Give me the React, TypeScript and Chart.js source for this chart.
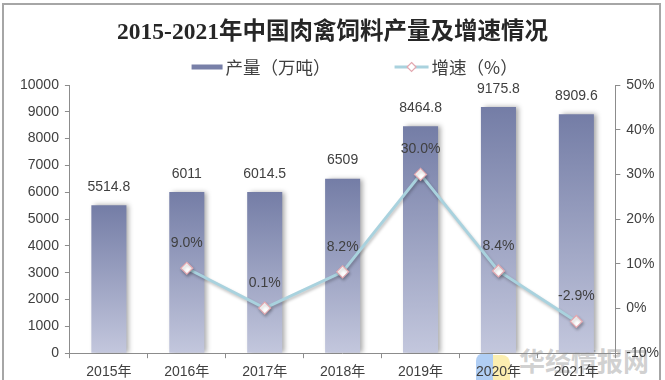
import React, { useEffect, useRef } from "react";
import { Chart, registerables } from "chart.js";

Chart.register(...registerables);

const categories = ["2015年", "2016年", "2017年", "2018年", "2019年", "2020年", "2021年"];
const outputValues = [5514.8, 6011, 6014.5, 6509, 8464.8, 9175.8, 8909.6];
const outputLabels = ["5514.8", "6011", "6014.5", "6509", "8464.8", "9175.8", "8909.6"];
const growthValues: (number | null)[] = [null, 9.0, 0.1, 8.2, 30.0, 8.4, -2.9];
const growthLabels = ["", "9.0%", "0.1%", "8.2%", "30.0%", "8.4%", "-2.9%"];
const leftAxis = { min: 0, max: 10000, step: 1000 };
const rightAxis = { min: -10, max: 50, step: 10 };

const TITLE = "2015-2021年中国肉禽饲料产量及增速情况";
const SERIES_BAR = "产量（万吨）";
const SERIES_LINE = "增速（%）";

const SANS = "'Liberation Sans', Arial, 'Noto Sans CJK SC', sans-serif";
const CJK = "'Noto Sans CJK SC', sans-serif";
const SERIF = "'Liberation Serif', 'Noto Sans CJK SC', serif";
const TEXT = "#404040";
const AXIS = "#8c8c8c";
const BAR_TOP = "#747da6";
const BAR_BOTTOM = "#c3c7dd";
const LEGEND_BAR = "#7880a8";
const LINE_COLOR = "#a9d2de";
const MARKER_BORDER = "#e3a8b0";

const shadowPlugin = {
  id: "shadowPlugin",
  beforeDatasetDraw(chart: any, args: any) {
    const ctx = chart.ctx;
    ctx.save();
    if (args.meta.type === "bar") {
      ctx.shadowColor = "rgba(0,0,0,0.35)";
      ctx.shadowBlur = 5;
      ctx.shadowOffsetX = 3;
      ctx.shadowOffsetY = 0;
    } else {
      ctx.shadowColor = "rgba(0,0,0,0.25)";
      ctx.shadowBlur = 3;
      ctx.shadowOffsetX = 1;
      ctx.shadowOffsetY = 2;
    }
  },
  afterDatasetDraw(chart: any) {
    chart.ctx.restore();
  },
};

const labelPlugin = {
  id: "labelPlugin",
  afterDatasetsDraw(chart: any) {
    const ctx = chart.ctx;
    ctx.save();
    ctx.font = `14px ${SANS}`;
    ctx.fillStyle = TEXT;
    ctx.textAlign = "center";
    ctx.textBaseline = "middle";
    chart.data.datasets.forEach((ds: any, di: number) => {
      const meta = chart.getDatasetMeta(di);
      meta.data.forEach((el: any, i: number) => {
        if (ds.type === "bar") {
          ctx.fillText(outputLabels[i], el.x, el.y - 18);
        } else if (growthValues[i] !== null) {
          ctx.fillText(growthLabels[i], el.x, el.y - 25);
        }
      });
    });
    ctx.restore();
  },
};

// Title and legend drawn in the space reserved above the plot
const headerPlugin = {
  id: "header",
  afterDraw(chart: any) {
    const ctx = chart.ctx;
    const area = chart.chartArea;
    ctx.save();
    ctx.font = `bold 23.5px ${SERIF}`;
    ctx.fillStyle = "#262626";
    ctx.textAlign = "center";
    ctx.textBaseline = "middle";
    ctx.fillText(TITLE, chart.width / 2, 33);

    const y = 67;
    ctx.font = `17.5px ${CJK}`;
    ctx.textAlign = "left";
    const sw1 = 31;
    const sw2 = 34;
    const gapText = 3;
    const gapItems = 64;
    const tw1 = ctx.measureText(SERIES_BAR).width;
    const tw2 = ctx.measureText(SERIES_LINE).width;
    const total = sw1 + gapText + tw1 + gapItems + sw2 + gapText + tw2;
    const cx = (area.left + area.right) / 2 + 12;
    let x = cx - total / 2;
    ctx.fillStyle = LEGEND_BAR;
    ctx.fillRect(x, y - 2.5, sw1, 5);
    x += sw1 + gapText;
    ctx.fillStyle = TEXT;
    ctx.fillText(SERIES_BAR, x, y);
    x += tw1 + gapItems;
    ctx.strokeStyle = LINE_COLOR;
    ctx.lineWidth = 3;
    ctx.beginPath();
    ctx.moveTo(x, y);
    ctx.lineTo(x + sw2, y);
    ctx.stroke();
    const mx = x + sw2 / 2;
    ctx.beginPath();
    ctx.moveTo(mx, y - 4.5);
    ctx.lineTo(mx + 4.5, y);
    ctx.lineTo(mx, y + 4.5);
    ctx.lineTo(mx - 4.5, y);
    ctx.closePath();
    ctx.fillStyle = "#ffffff";
    ctx.fill();
    ctx.strokeStyle = MARKER_BORDER;
    ctx.lineWidth = 1.2;
    ctx.stroke();
    x += sw2 + gapText;
    ctx.fillStyle = TEXT;
    ctx.fillText(SERIES_LINE, x, y);
    ctx.restore();
  },
};

export default function App() {
  const ref = useRef<HTMLCanvasElement>(null);

  useEffect(() => {
    if (!ref.current) return;

    const chart = new Chart(ref.current, {
      type: "bar",
      data: {
        labels: categories,
        datasets: [
          {
            type: "line",
            label: SERIES_LINE,
            data: growthValues,
            yAxisID: "y1",
            borderColor: LINE_COLOR,
            borderWidth: 3,
            pointStyle: "rectRot",
            pointRadius: 6,
            pointBackgroundColor: "#ffffff",
            pointBorderColor: MARKER_BORDER,
            pointBorderWidth: 1.2,
            tension: 0,
            order: 0,
          } as any,
          {
            type: "bar",
            label: SERIES_BAR,
            data: outputValues,
            yAxisID: "y",
            barPercentage: 0.9,
            categoryPercentage: 0.5,
            order: 1,
            backgroundColor: (c: any) => {
              const chart = c.chart;
              const ys = chart.scales && chart.scales.y;
              if (!ys || c.dataIndex === undefined) return BAR_TOP;
              const v = outputValues[c.dataIndex];
              const top = ys.getPixelForValue(v);
              const bottom = ys.getPixelForValue(0);
              if (!isFinite(top) || !isFinite(bottom)) return BAR_TOP;
              const g = chart.ctx.createLinearGradient(0, top, 0, bottom);
              g.addColorStop(0, BAR_TOP);
              g.addColorStop(1, BAR_BOTTOM);
              return g;
            },
          } as any,
        ],
      },
      options: {
        animation: false,
        responsive: false,
        maintainAspectRatio: false,
        layout: { padding: { left: 14, right: 0, top: 85, bottom: -7 } },
        plugins: {
          title: { display: false },
          legend: { display: false },
          tooltip: { enabled: false },
        },
        scales: {
          x: {
            offset: true,
            grid: {
              display: true,
              offset: true,
              drawOnChartArea: false,
              drawTicks: true,
              tickLength: 5,
              color: AXIS,
            },
            border: { display: true, color: AXIS, width: 1 },
            ticks: { color: TEXT, font: { size: 14, family: SANS }, padding: 6, maxRotation: 0 },
          },
          y: {
            position: "left",
            min: leftAxis.min,
            max: leftAxis.max,
            grid: {
              display: true,
              drawOnChartArea: false,
              drawTicks: true,
              tickLength: 5,
              color: AXIS,
            },
            border: { display: true, color: AXIS, width: 1 },
            ticks: {
              stepSize: leftAxis.step,
              color: TEXT,
              font: { size: 14, family: SANS },
              padding: 6,
              callback: (v: any) => String(v),
            },
          },
          y1: {
            position: "right",
            min: rightAxis.min,
            max: rightAxis.max,
            grid: {
              display: true,
              drawOnChartArea: false,
              drawTicks: true,
              tickLength: 5,
              color: AXIS,
            },
            border: { display: true, color: AXIS, width: 1 },
            ticks: {
              stepSize: rightAxis.step,
              color: TEXT,
              font: { size: 14, family: SANS },
              padding: 6,
              callback: (v: any) => `${v}%`,
            },
          },
        },
      },
      plugins: [shadowPlugin, labelPlugin, headerPlugin],
    } as any);

    return () => chart.destroy();
  }, []);

  return (
    <div
      style={{
        position: "fixed",
        left: 0,
        top: 0,
        width: 665,
        height: 380,
        background: "#ffffff",
        overflow: "hidden",
      }}
    >
      <div
        style={{
          position: "absolute",
          left: 2,
          top: 3,
          width: 659,
          height: 400,
          border: "2px solid #a6a6a6",
          boxSizing: "border-box",
        }}
      />
      <div
        style={{
          position: "absolute",
          left: 476,
          top: 353,
          width: 17,
          height: 27,
          background: "rgba(150,190,240,0.75)",
          borderTopLeftRadius: 8,
        }}
      />
      <div
        style={{
          position: "absolute",
          left: 493,
          top: 355,
          width: 17,
          height: 25,
          background: "rgba(250,232,150,0.75)",
          borderTopRightRadius: 8,
        }}
      />
      <div
        style={{
          position: "absolute",
          left: 519,
          top: 343,
          fontFamily: "'Noto Sans CJK SC', sans-serif",
          fontWeight: "bold",
          fontSize: 26,
          lineHeight: "34px",
          color: "rgba(170,170,170,0.55)",
          letterSpacing: 0,
          whiteSpace: "nowrap",
        }}
      >
        华经情报网
      </div>
      <canvas
        ref={ref}
        width={665}
        height={380}
        style={{ position: "absolute", left: 0, top: 0, width: 665, height: 380 }}
      />
    </div>
  );
}
